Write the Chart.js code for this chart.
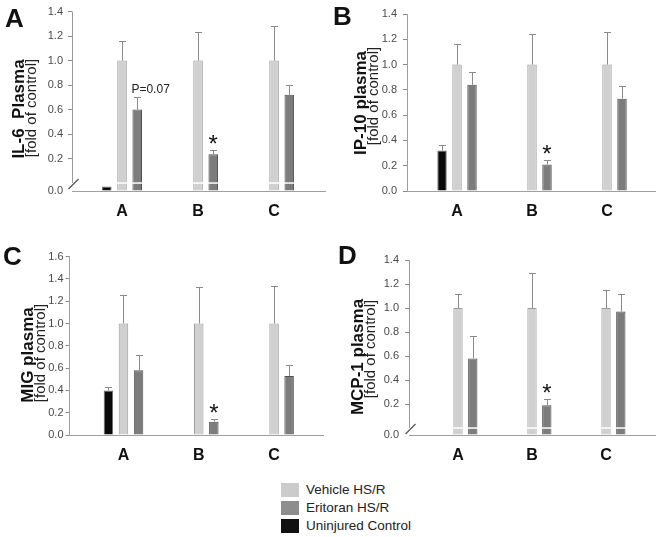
<!DOCTYPE html>
<html>
<head>
<meta charset="utf-8">
<script src="https://cdn.jsdelivr.net/npm/chart.js@4.4.1/dist/chart.umd.min.js"></script>
<style>
  body { margin: 0; background: #fff; width: 656px; height: 537px; position: relative; overflow: hidden;
         font-family: "Liberation Sans", Arial, sans-serif; }
  canvas { position: absolute; }
  #legend { position: absolute; left: 281px; top: 483px; }
  .item { height: 18px; display: flex; align-items: flex-start; font-size: 13.5px; color: #222; line-height: 14px; }
  .sw { width: 18px; height: 14px; margin-right: 7px; }
</style>
</head>
<body>
<canvas id="il6" width="330" height="225" style="left:0;top:0"></canvas>
<canvas id="ip10" width="326" height="225" style="left:330px;top:0"></canvas>
<canvas id="mig" width="330" height="245" style="left:0;top:225px"></canvas>
<canvas id="mcp1" width="326" height="245" style="left:330px;top:225px"></canvas>
<div id="legend"></div>
<script>
Chart.defaults.font.family = '"Liberation Sans", Arial, sans-serif';

const categories = ['A', 'B', 'C'];
// order inside each group: control, vehicle, eritoran
const seriesNames = ['Uninjured Control', 'Vehicle HS/R', 'Eritoran HS/R'];
const seriesColors = ['#0a0a0a', '#d0d0d0', '#7c7c7c'];
const seriesBorders = ['#707070', '#9c9c9c', '#505050'];
const legendOrder = [1, 2, 0];
const legendColors = ['#111111', '#cbcbcb', '#8e8e8e'];

// A: IL-6 plasma (axis broken below 0, black bar sits inside the break)
const il6Control = [-0.028, null, null];
const il6ControlErr = [0, null, null];
const il6Vehicle = [1.0, 1.0, 1.0];
const il6VehicleErr = [0.16, 0.23, 0.28];
const il6Eritoran = [0.60, 0.235, 0.72];
const il6EritoranErr = [0.10, 0.035, 0.08];
const il6Marks = ['P=0.07', '*', null];
const il6Ticks = ['0.0', '0.2', '0.4', '0.6', '0.8', '1.0', '1.2', '1.4'];

// B: IP-10 plasma
const ip10Control = [0.32, null, null];
const ip10ControlErr = [0.045, null, null];
const ip10Vehicle = [1.0, 1.0, 1.0];
const ip10VehicleErr = [0.16, 0.24, 0.26];
const ip10Eritoran = [0.84, 0.21, 0.73];
const ip10EritoranErr = [0.10, 0.033, 0.10];
const ip10Marks = [null, '*', null];
const ip10Ticks = ['0.0', '0.2', '0.4', '0.6', '0.8', '1.0', '1.2', '1.4'];

// C: MIG plasma
const migControl = [0.40, null, null];
const migControlErr = [0.03, null, null];
const migVehicle = [1.0, 1.0, 1.0];
const migVehicleErr = [0.26, 0.33, 0.34];
const migEritoran = [0.58, 0.12, 0.53];
const migEritoranErr = [0.14, 0.02, 0.10];
const migMarks = [null, '*', null];
const migTicks = ['0.0', '0.2', '0.4', '0.6', '0.8', '1.0', '1.2', '1.4', '1.6'];

// D: MCP-1 plasma (axis broken below 0)
const mcpControl = [null, null, null];
const mcpControlErr = [null, null, null];
const mcpVehicle = [1.0, 1.0, 1.0];
const mcpVehicleErr = [0.12, 0.29, 0.15];
const mcpEritoran = [0.58, 0.19, 0.97];
const mcpEritoranErr = [0.19, 0.055, 0.15];
const mcpMarks = [null, '*', null];
const mcpTicks = ['0.0', '0.2', '0.4', '0.6', '0.8', '1.0', '1.2', '1.4'];

const panels = [
  { id: 'il6', letter: 'A', title: 'IL-6  Plasma', vals: [il6Control, il6Vehicle, il6Eritoran],
    errs: [il6ControlErr, il6VehicleErr, il6EritoranErr], marks: il6Marks, ticks: il6Ticks,
    yMin: -0.065, yMax: 1.4, brk: true, pad: [36, 11, 5], xH: 34, xRange: [-0.658, 2.67], tickPad: 5,
    letterPos: [5, 27], titlePos: [19, 109], subPos: [32, 108] },
  { id: 'ip10', letter: 'B', title: 'IP-10 plasma', vals: [ip10Control, ip10Vehicle, ip10Eritoran],
    errs: [ip10ControlErr, ip10VehicleErr, ip10EritoranErr], marks: ip10Marks, ticks: ip10Ticks,
    yMin: 0, yMax: 1.4, brk: false, pad: [41, 14, 1], xH: 34, xRange: [-0.667, 2.64], tickPad: 6,
    letterPos: [3, 25], titlePos: [31, 103], subPos: [44, 96] },
  { id: 'mig', letter: 'C', title: 'MIG plasma', vals: [migControl, migVehicle, migEritoran],
    errs: [migControlErr, migVehicleErr, migEritoranErr], marks: migMarks, ticks: migTicks,
    yMin: 0, yMax: 1.6, brk: false, pad: [33.5, 31.7, 7], xH: 35, xRange: [-0.717, 2.65], tickPad: 2,
    letterPos: [3, 40], titlePos: [28, 130], subPos: [41, 128] },
  { id: 'mcp1', letter: 'D', title: 'MCP-1 plasma', vals: [mcpControl, mcpVehicle, mcpEritoran],
    errs: [mcpControlErr, mcpVehicleErr, mcpEritoranErr], marks: mcpMarks, ticks: mcpTicks,
    yMin: -0.058, yMax: 1.4, brk: true, pad: [43, 35, 1], xH: 35, xRange: [-0.662, 2.662], tickPad: 6,
    letterPos: [8, 39], titlePos: [28, 132], subPos: [41, 124] }
];

function decor(p) {
  return {
    id: 'decor',
    afterDatasetsDraw(chart) {
      const ctx = chart.ctx;
      const y = chart.scales.y;
      const area = chart.chartArea;
      const zero = y.getPixelForValue(0);
      ctx.save();
      chart.data.datasets.forEach((ds, di) => {
        chart.getDatasetMeta(di).data.forEach((bar, j) => {
          const raw = ds.data[j];
          const half = bar.width / 2;
          // white gap across the bars marks the axis break
          if (p.brk && raw.y > 0) {
            ctx.strokeStyle = '#ffffff';
            ctx.lineWidth = 1.5;
            ctx.beginPath();
            ctx.moveTo(bar.x - half - 1, zero);
            ctx.lineTo(bar.x + half + 1, zero);
            ctx.stroke();
          }
          const err = ds.errors[raw.x];
          let top = bar.y;
          if (err) {
            top = y.getPixelForValue(raw.y + err);
            const cx = Math.round(bar.x) + 0.5;
            ctx.strokeStyle = '#8a8a8a';
            ctx.lineWidth = 1;
            ctx.beginPath();
            ctx.moveTo(cx, bar.y);
            ctx.lineTo(cx, Math.round(top) + 0.5);
            ctx.moveTo(cx - 3.5, Math.round(top) + 0.5);
            ctx.lineTo(cx + 3.5, Math.round(top) + 0.5);
            ctx.stroke();
          }
          const mark = ds.marks[raw.x];
          if (mark === '*') {
            ctx.fillStyle = '#111';
            ctx.font = '24px "Liberation Sans", Arial, sans-serif';
            ctx.textAlign = 'center';
            ctx.textBaseline = 'alphabetic';
            ctx.fillText(mark, bar.x, top + 2);
          } else if (mark) {
            ctx.fillStyle = '#222';
            ctx.font = '12px "Liberation Sans", Arial, sans-serif';
            ctx.textAlign = 'left';
            ctx.textBaseline = 'alphabetic';
            ctx.fillText(mark, bar.x - half - 1, top - 4);
          }
        });
      });
      if (p.brk) {
        const ax = Math.round(area.left) + 0.5;
        ctx.strokeStyle = '#9a9a9a';
        ctx.lineWidth = 1;
        ctx.beginPath();
        ctx.moveTo(ax, area.top);
        ctx.lineTo(ax, zero);
        ctx.stroke();
        ctx.strokeStyle = '#555';
        ctx.lineWidth = 1.2;
        ctx.beginPath();
        ctx.moveTo(ax - 4, zero + 6);
        ctx.lineTo(ax + 6, zero - 4);
        ctx.stroke();
      }
      ctx.restore();
    },
    afterDraw(chart) {
      const ctx = chart.ctx;
      ctx.save();
      ctx.fillStyle = '#111';
      ctx.font = 'bold 26px "Liberation Sans", Arial, sans-serif';
      ctx.textAlign = 'left';
      ctx.textBaseline = 'alphabetic';
      ctx.fillText(p.letter, p.letterPos[0], p.letterPos[1]);
      ctx.textAlign = 'center';
      ctx.textBaseline = 'middle';
      ctx.save();
      ctx.translate(p.titlePos[0], p.titlePos[1]);
      ctx.rotate(-Math.PI / 2);
      ctx.font = 'bold 17px "Liberation Sans", Arial, sans-serif';
      ctx.fillText(p.title, 0, 0);
      ctx.restore();
      ctx.save();
      ctx.translate(p.subPos[0], p.subPos[1]);
      ctx.rotate(-Math.PI / 2);
      ctx.fillStyle = '#222';
      ctx.font = '15px "Liberation Sans", Arial, sans-serif';
      ctx.fillText('[fold of control]', 0, 0);
      ctx.restore();
      ctx.restore();
    }
  };
}

function makePanel(p) {
  const tickVals = p.ticks.map(t => (p.brk && t === '0.0') ? p.yMin : parseFloat(t));
  new Chart(document.getElementById(p.id), {
    type: 'bar',
    data: {
      datasets: p.vals.map((arr, s) => ({
        label: seriesNames[s],
        data: arr.map((v, i) => ({ x: i, y: v })).filter(d => d.y !== null),
        errors: p.errs[s],
        marks: s === 2 ? p.marks : [],
        backgroundColor: seriesColors[s],
        borderColor: seriesBorders[s],
        borderWidth: 1,
        base: p.yMin,
        categoryPercentage: 0.6,
        barPercentage: 0.63
      }))
    },
    options: {
      responsive: false,
      animation: false,
      layout: { padding: { left: p.pad[0], top: p.pad[1], right: p.pad[2], bottom: 0 } },
      plugins: { legend: { display: false }, tooltip: { enabled: false } },
      scales: {
        x: {
          type: 'linear', min: p.xRange[0], max: p.xRange[1], offset: false,
          grid: { display: false, drawTicks: false },
          border: { display: true, color: '#a0a0a0' },
          afterBuildTicks: s => { s.ticks = categories.map((c, i) => ({ value: i })); },
          afterFit: s => { s.height = p.xH; },
          ticks: { padding: 11, color: '#111', autoSkip: false, maxRotation: 0,
                   font: { size: 16, weight: 'bold' }, callback: v => categories[v] }
        },
        y: {
          min: p.yMin, max: p.yMax,
          afterBuildTicks: s => { s.ticks = tickVals.map(v => ({ value: v })); },
          afterFit: s => { s.width = 36; },
          grid: { drawOnChartArea: false, drawTicks: true, tickLength: 4,
                  color: c => (p.brk && c.index === 0) ? 'rgba(0,0,0,0)' : '#8c8c8c' },
          border: { display: !p.brk, color: '#a0a0a0' },
          ticks: { padding: p.tickPad, color: '#4a4a4a', autoSkip: false, font: { size: 11 },
                   callback: (v, i) => p.ticks[i] }
        }
      }
    },
    plugins: [decor(p)]
  });
}

panels.forEach(makePanel);

const legend = document.getElementById('legend');
legendOrder.forEach(s => {
  const row = document.createElement('div');
  row.className = 'item';
  row.innerHTML = '<div class="sw" style="background:' + legendColors[s] + '"></div><span>' + seriesNames[s] + '</span>';
  legend.appendChild(row);
});
</script>
</body>
</html>
